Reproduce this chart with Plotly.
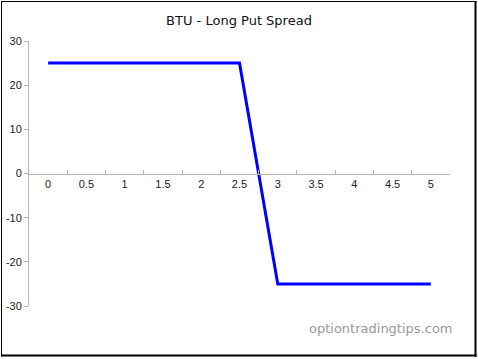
import plotly.graph_objects as go

# Data
prices = ["0", "0.5", "1", "1.5", "2", "2.5", "3", "3.5", "4", "4.5", "5"]
profit = [25, 25, 25, 25, 25, 25, -25, -25, -25, -25, -25]
y_ticks = [-30, -20, -10, 0, 10, 20, 30]
y_tick_labels = ["-30", "-20", "-10", "0", "10", "20", "30"]

W, H = 478, 359
L, R, T, B = 29, 28, 41, 53
pw = W - L - R
ph = H - T - B

def px_x(p):
    return (p - L) / pw

def px_y(p):
    return (H - B - p) / ph

fig = go.Figure()
fig.add_trace(go.Scatter(
    x=prices, y=profit, mode="lines",
    line=dict(color="#0000ff", width=3),
    hoverinfo="x+y", showlegend=False,
))

axis_gray = "#b4b4b4"
tick_font = dict(family="Liberation Sans, Arial, sans-serif", size=11, color="#222222")

fig.update_layout(
    width=W, height=H,
    margin=dict(l=L, r=R, t=T, b=B, pad=0, autoexpand=False),
    paper_bgcolor="white", plot_bgcolor="white",
    title=dict(text="BTU - Long Put Spread", x=0.5, xanchor="center",
               y=1 - 20 / H, yanchor="middle",
               font=dict(family="DejaVu Sans, Verdana, sans-serif", size=13, color="#111111")),
    xaxis=dict(
        type="category", range=[-0.5, 10.5],
        anchor="free", position=0.5, automargin=False,
        showline=True, linecolor=axis_gray, linewidth=1,
        showgrid=False, zeroline=False,
        ticks="inside", tickson="boundaries", ticklen=4, tickcolor=axis_gray,
        tickfont=tick_font,
    ),
    yaxis=dict(
        range=[-30, 30], tickvals=y_ticks, ticktext=y_tick_labels,
        automargin=False,
        showline=True, linecolor=axis_gray, linewidth=1,
        showgrid=False, zeroline=False,
        ticks="outside", ticklen=4, tickcolor=axis_gray,
        tickfont=tick_font,
    ),
    annotations=[dict(
        text="optiontradingtips.com", xref="paper", yref="paper",
        x=px_x(455), y=px_y(328), xanchor="right", yanchor="middle",
        showarrow=False,
        font=dict(family="DejaVu Sans, Verdana, sans-serif", size=13, color="#999999"),
    )],
    shapes=[
        dict(type="line", xref="paper", yref="paper", x0=px_x(1.5), x1=px_x(1.5),
             y0=px_y(1), y1=px_y(356.5), line=dict(color="black", width=1)),
        dict(type="line", xref="paper", yref="paper", x0=px_x(1), x1=px_x(476.5),
             y0=px_y(1.5), y1=px_y(1.5), line=dict(color="black", width=1)),
        dict(type="line", xref="paper", yref="paper", x0=px_x(475.5), x1=px_x(475.5),
             y0=px_y(1), y1=px_y(357), line=dict(color="black", width=2)),
        dict(type="line", xref="paper", yref="paper", x0=px_x(1), x1=px_x(476.5),
             y0=px_y(355.5), y1=px_y(355.5), line=dict(color="black", width=2)),
    ],
)

fig.write_html("out.html")
